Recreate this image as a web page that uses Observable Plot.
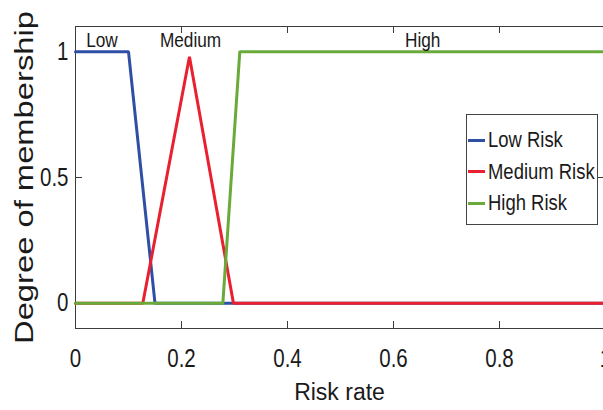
<!DOCTYPE html>
<html>
<head>
<meta charset="utf-8">
<script src="https://cdn.jsdelivr.net/npm/d3@7"></script>
<script src="https://cdn.jsdelivr.net/npm/@observablehq/plot@0.6"></script>
<style>
  html, body { margin: 0; padding: 0; background: #fff; overflow: hidden; }
  #wrap { position: relative; width: 603px; height: 410px; overflow: hidden; }
  #legend { position: absolute; left: 466px; top: 114px; width: 132px; height: 111px;
    border: 1px solid #444; background: #fff; box-sizing: border-box;
    font-family: "Liberation Sans", Arial, sans-serif; font-size: 22.5px; color: #1a1a1a; }
  .row { position: absolute; left: 0; height: 30px; display: flex; align-items: center; white-space: nowrap; }
  .sw { width: 17px; height: 3px; margin-left: 1px; margin-right: 3px; flex: none; }
  .lab { display: inline-block; transform: scaleX(0.82); transform-origin: left center; }
</style>
</head>
<body>
<div id="wrap"><div id="chart"></div><div id="legend"></div></div>
<script>
// ---- data ----
const seriesNames = ["Low Risk", "Medium Risk", "High Risk"];
const seriesColors = ["#2f4fa5", "#e8202f", "#6aaa3a"];
const lowX = [0, 0.1, 0.15, 1];
const lowY = [1, 1, 0, 0];
const medX = [0, 0.127, 0.215, 0.298, 1];
const medY = [0, 0, 0.98, 0, 0];
const highX = [0, 0.278, 0.31, 1];
const highY = [0, 0, 1, 1];
const xTicks = [0, 0.2, 0.4, 0.6, 0.8, 1];
const yTicks = [0, 0.5, 1];
const xDomain = [0, 1];
const yDomain = [-0.1, 1.1];
const annText = ["Low", "Medium", "High"];
const annX = [0.05, 0.217, 0.655];
const annY = [1.044, 1.044, 1.044];
const xLabel = "Risk rate";
const yLabel = "Degree of membership";

const toRows = (xs, ys, s) => xs.map((x, i) => ({x, y: ys[i], s}));
const lowData = toRows(lowX, lowY, seriesNames[0]);
const medData = toRows(medX, medY, seriesNames[1]);
const highData = toRows(highX, highY, seriesNames[2]);
const ann = annText.map((t, i) => ({t, x: annX[i], y: annY[i]}));

const axisColor = "#3c3c3c";
const font = "'Liberation Sans', Arial, sans-serif";
const fmt = d3.format("~g");

const chart = Plot.plot({
  width: 603,
  height: 410,
  marginLeft: 75,
  marginRight: 0,
  marginTop: 26,
  marginBottom: 82,
  style: {fontFamily: font, color: "#1a1a1a", background: "#fff"},
  x: {domain: xDomain, range: [75, 605]},
  y: {domain: yDomain},
  marks: [
    // frame
    Plot.ruleX(xDomain, {stroke: axisColor, strokeWidth: 1}),
    Plot.ruleY(yDomain, {stroke: axisColor, strokeWidth: 1}),
    // inward ticks
    Plot.ruleX(xTicks, {x: d => d, y1: yDomain[0], y2: yDomain[0], insetTop: -7, stroke: axisColor}),
    Plot.ruleX(xTicks, {x: d => d, y1: yDomain[1], y2: yDomain[1], insetBottom: -7, stroke: axisColor}),
    Plot.ruleY(yTicks, {y: d => d, x1: xDomain[0], x2: xDomain[0], insetRight: -7, stroke: axisColor}),
    Plot.ruleY(yTicks, {y: d => d, x1: xDomain[1], x2: xDomain[1], insetLeft: -7, stroke: axisColor}),
    // tick labels
    Plot.axisX({ticks: xTicks, tickSize: 0, tickPadding: 21, tickFormat: fmt, label: null, fontSize: 25, fill: "#1a1a1a"}),
    Plot.axisY({ticks: yTicks, tickSize: 0, tickPadding: 7, tickFormat: fmt, label: null, fontSize: 25, fill: "#1a1a1a"}),
    // series
    Plot.line(lowData, {x: "x", y: "y", stroke: seriesColors[0], strokeWidth: 3, strokeLinejoin: "miter"}),
    Plot.line(medData, {x: "x", y: "y", stroke: seriesColors[1], strokeWidth: 3, strokeLinejoin: "miter"}),
    Plot.line(highData, {x: "x", y: "y", stroke: seriesColors[2], strokeWidth: 3, strokeLinejoin: "miter"}),
    // annotations
    Plot.text(ann, {x: "x", y: "y", text: "t", fontSize: 21, lineAnchor: "middle", fill: "#1a1a1a"}),
    // axis labels
    Plot.text([xLabel], {frameAnchor: "bottom", dy: 64, lineAnchor: "middle", textAnchor: "middle", fontSize: 23, fill: "#1a1a1a"}),
    Plot.text([yLabel], {frameAnchor: "left", dx: -51, rotate: -90, lineAnchor: "middle", textAnchor: "middle", fontSize: 25, fill: "#1a1a1a"})
  ]
});

document.getElementById("chart").appendChild(chart);

// condense all texts except the axis titles (narrow Helvetica look)
d3.select(chart).selectAll("text").each(function() {
  const t = this.textContent;
  if (t === yLabel) {
    this.setAttribute("textLength", 333);
    this.setAttribute("lengthAdjust", "spacingAndGlyphs");
  } else if (t !== xLabel) {
    const L = this.getComputedTextLength();
    if (L > 0) {
      this.setAttribute("textLength", L * 0.82);
      this.setAttribute("lengthAdjust", "spacingAndGlyphs");
    }
  }
});

const legend = d3.select("#legend");
seriesNames.forEach((name, i) => {
  const row = legend.append("div").attr("class", "row").style("top", (10 + i * 31.5) + "px");
  row.append("div").attr("class", "sw").style("background", seriesColors[i]);
  row.append("span").attr("class", "lab").text(name);
});
</script>
</body>
</html>
